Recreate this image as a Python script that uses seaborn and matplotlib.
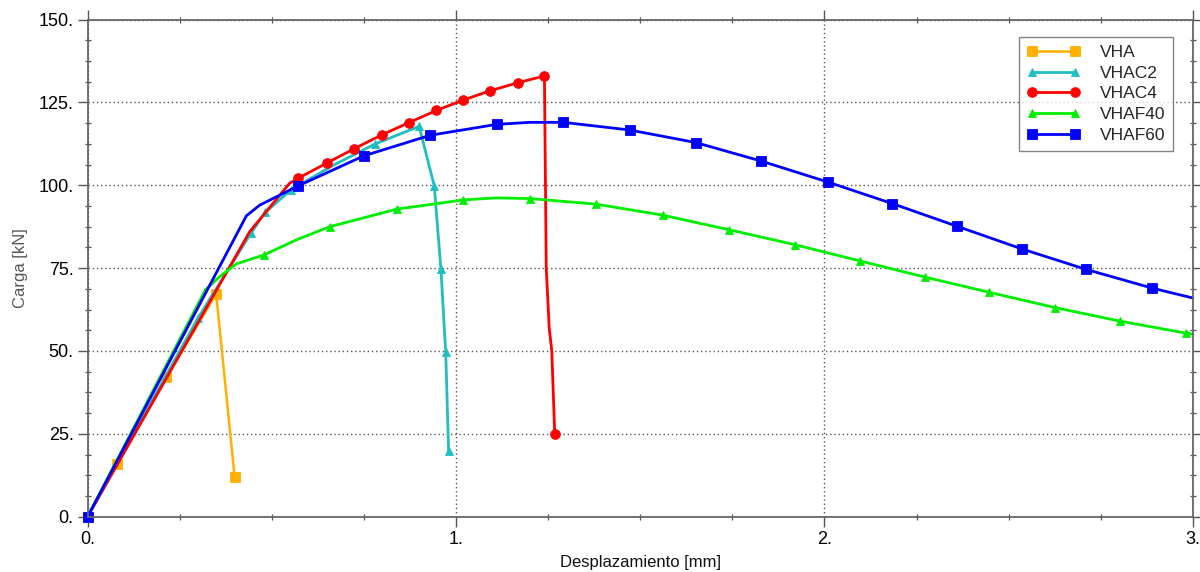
import matplotlib
matplotlib.use('Agg')
import matplotlib.pyplot as plt
import seaborn as sns
from matplotlib.ticker import FixedLocator, MultipleLocator

# series: line vertices, plus which vertices carry a marker
vha_x = [0, 0.079, 0.214, 0.349, 0.399]
vha_y = [0, 15.9, 42.1, 67.2, 12.1]
vha_marks = [0, 1, 2, 3, 4]

vhac2_x = [0, 0.300, 0.443, 0.482, 0.553, 0.666, 0.779, 0.900, 0.941, 0.959, 0.972, 0.980]
vhac2_y = [0, 60.0, 85.5, 91.8, 98.7, 106.0, 112.4, 117.8, 99.8, 74.8, 49.8, 19.7]
vhac2_marks = [0, 1, 2, 3, 4, 6, 7, 8, 9, 10, 11]

vhac4_x = [0, 0.44, 0.548, 0.571, 0.649, 0.723, 0.798, 0.872, 0.947, 1.019, 1.092, 1.169,
           1.240, 1.242, 1.245, 1.253, 1.260, 1.268]
vhac4_y = [0, 86.0, 100.6, 102.1, 106.7, 111.0, 115.2, 118.9, 122.6, 125.7, 128.5, 131.0,
           133.0, 110.0, 75.0, 57.0, 50.0, 24.9]
vhac4_marks = [0, 3, 4, 5, 6, 7, 8, 9, 10, 11, 12, 17]

vhaf40_x = [0, 0.32, 0.36, 0.404, 0.479, 0.568, 0.657, 0.839, 1.020, 1.11, 1.201, 1.381, 1.561,
            1.741, 1.919, 2.096, 2.273, 2.448, 2.626, 2.803, 2.981, 3.0]
vhaf40_y = [0, 68.5, 72.6, 76.3, 79.0, 83.6, 87.5, 92.8, 95.6, 96.2, 96.0, 94.3, 91.0,
            86.6, 82.1, 77.2, 72.3, 67.7, 63.1, 59.0, 55.4, 55.1]
vhaf40_marks = [0, 4, 6, 7, 8, 10, 11, 12, 13, 14, 15, 16, 17, 18, 19, 20]

vhaf60_x = [0, 0.431, 0.467, 0.571, 0.750, 0.930, 1.111, 1.20, 1.291, 1.471, 1.651, 1.829,
            2.009, 2.184, 2.361, 2.536, 2.711, 2.889, 3.0]
vhaf60_y = [0, 90.8, 94.0, 99.8, 108.9, 115.1, 118.4, 119.0, 119.0, 116.7, 112.9, 107.3,
            101.0, 94.5, 87.6, 80.8, 74.6, 69.0, 66.0]
vhaf60_marks = [0, 3, 4, 5, 6, 8, 9, 10, 11, 12, 13, 14, 15, 16, 17]

x_ticks = [0, 1, 2, 3]
x_labels = ['0.', '1.', '2.', '3.']
y_ticks = [0, 25, 50, 75, 100, 125, 150]
y_labels = ['0.', '25.', '50.', '75.', '100.', '125.', '150.']

series = [
    ('VHA', vha_x, vha_y, vha_marks, '#FFB000', 's', 7, 1.8),
    ('VHAC2', vhac2_x, vhac2_y, vhac2_marks, '#1FBFBF', '^', 6, 2.0),
    ('VHAC4', vhac4_x, vhac4_y, vhac4_marks, '#FF0000', 'o', 7, 2.0),
    ('VHAF40', vhaf40_x, vhaf40_y, vhaf40_marks, '#00EE00', '^', 6, 2.0),
    ('VHAF60', vhaf60_x, vhaf60_y, vhaf60_marks, '#0000FF', 's', 7, 2.0),
]

sns.set_style('ticks')
plt.rcParams['font.family'] = ['Liberation Sans', 'DejaVu Sans']

fig = plt.figure(figsize=(12, 5.72), dpi=100)
ax = fig.add_axes([0.073, 0.0967, 0.921, 0.869])

for name, xs, ys, marks, color, mk, ms, lw in series:
    sns.lineplot(x=xs, y=ys, ax=ax, sort=False, estimator=None, color=color, linewidth=lw,
                 marker=mk, markersize=ms, markevery=marks, markeredgewidth=0.6,
                 markeredgecolor=color, label=name, clip_on=False)

ax.set_xlim(0, 3)
ax.set_ylim(0, 150)
ax.xaxis.set_major_locator(FixedLocator(x_ticks))
ax.set_xticklabels(x_labels)
ax.yaxis.set_major_locator(FixedLocator(y_ticks))
ax.set_yticklabels(y_labels)
ax.xaxis.set_minor_locator(MultipleLocator(0.25))
ax.yaxis.set_minor_locator(MultipleLocator(6.25))

ax.grid(True, which='major', linestyle=(0, (1, 2)), color='#555555', linewidth=1.0)
ax.set_axisbelow(True)

for side in ['left', 'bottom', 'top', 'right']:
    ax.spines[side].set_visible(True)
    ax.spines[side].set_color('#666666')
    ax.spines[side].set_linewidth(1.3)

ax.tick_params(which='both', top=True, right=True, labeltop=False, labelright=False,
               color='#555555', labelcolor='black')
ax.tick_params(which='major', direction='out', length=7, width=1.0, labelsize=13, pad=3)
ax.tick_params(which='minor', direction='inout', length=5, width=0.9)

ax.set_xlabel('Desplazamiento [mm]', fontsize=12, color='#111111')
ax.set_ylabel('Carga [kN]', fontsize=12, color='#555555')
ax.xaxis.set_label_coords(0.5, -0.077)
ax.yaxis.set_label_coords(-0.054, 0.5)

leg = ax.legend(loc='upper right', bbox_to_anchor=(0.982, 0.965), numpoints=2,
                handlelength=3.1, fontsize=12.5, frameon=True, fancybox=False,
                edgecolor='#666666', borderaxespad=0, borderpad=0.45, labelspacing=0.32,
                handletextpad=1.1)
leg.get_frame().set_linewidth(1.0)

fig.savefig('out.png', dpi=100)
